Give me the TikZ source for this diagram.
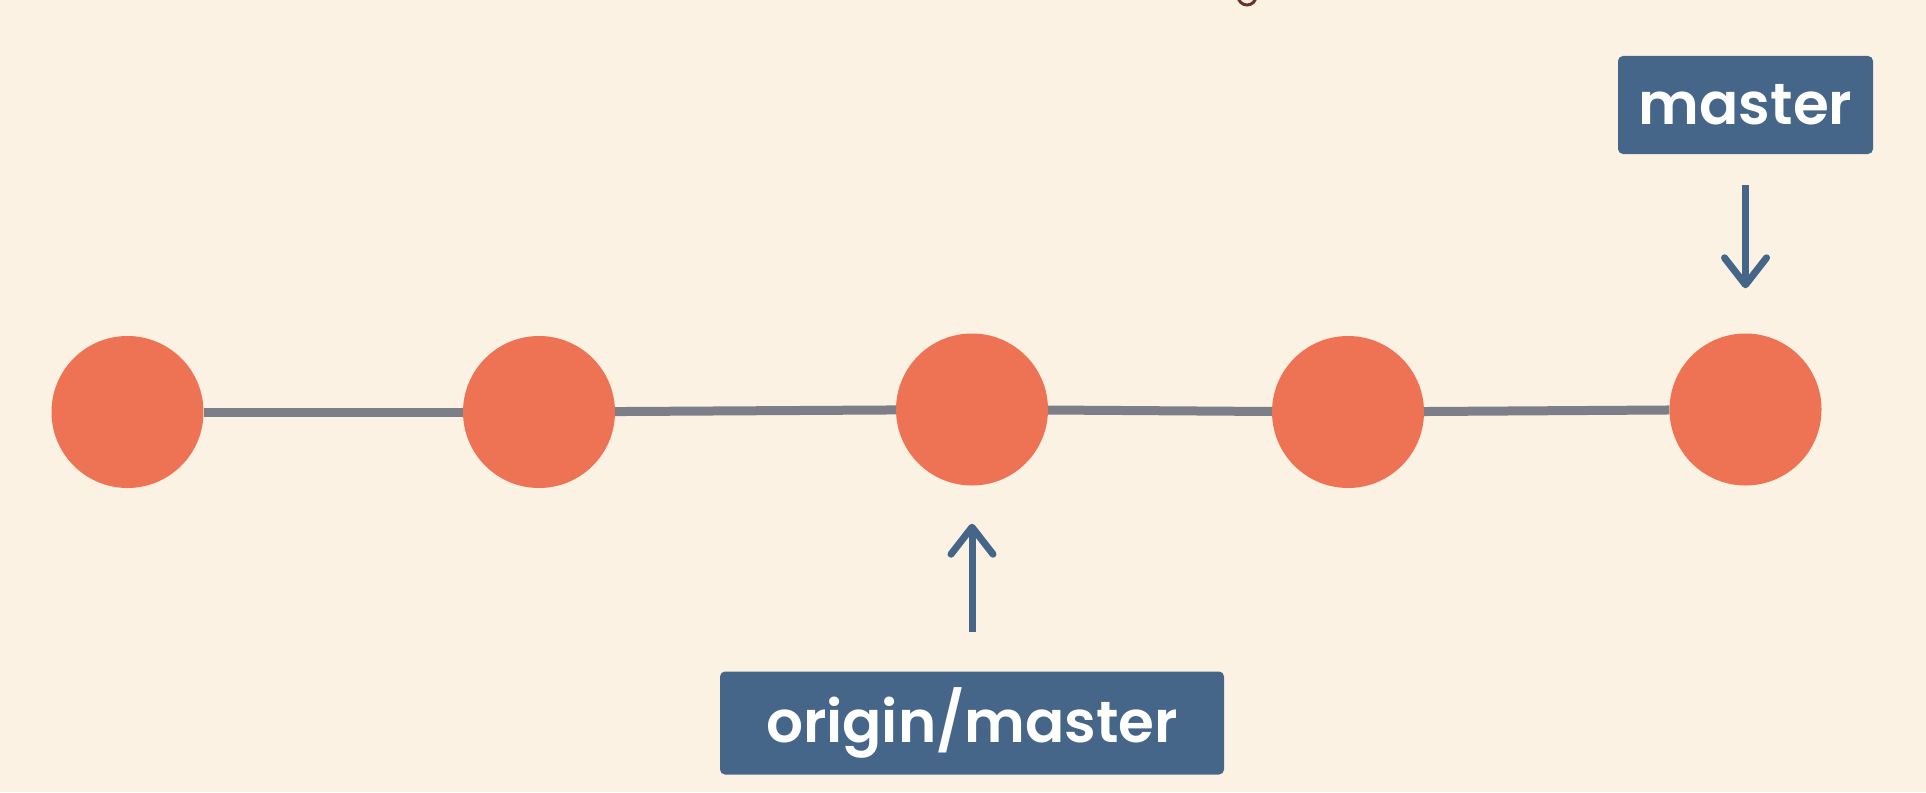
\documentclass[tikz,border=0pt]{standalone}
\usepackage{fontspec}
\newfontfamily\labelfont{Poppins}[UprightFont={* SemiBold}]
\usetikzlibrary{arrows.meta, positioning}
\definecolor{bgcream}{HTML}{FCF2E3}
\definecolor{commitred}{HTML}{EE7354}
\definecolor{refblue}{HTML}{456689}
\definecolor{linkgrey}{HTML}{7C7F88}
\definecolor{ringbrown}{HTML}{6B3330}

\begin{document}
\begin{tikzpicture}[x=1pt, y=-1pt,
  commit/.style={circle, fill=commitred, minimum size=152pt, inner sep=0pt},
  refbox/.style={fill=refblue, rounded corners=5pt, inner sep=0pt, minimum height=100pt, text=white, font=\labelfont\fontsize{58}{70}\selectfont, text height=39pt, text depth=0pt},
  link/.style={draw=linkgrey, line width=9pt},
  refptr/.style={draw=refblue, line width=7pt, -{Straight Barb[length=27pt, width=42pt, round]}}
]
  \useasboundingbox[fill=bgcream] (0,0) rectangle (1926,792);
  \draw[ringbrown, line width=3pt] (1247,-4) circle (9);

  \node[commit] (c1) at (127.5,412) {};
  \node[commit] (c2) at (539,412) {};
  \node[commit] (c3) at (972,409.5) {};
  \node[commit] (c4) at (1348,412) {};
  \node[commit] (c5) at (1745.5,409.5) {};
  \foreach \a/\b in {c1/c2, c2/c3, c3/c4, c4/c5}
    \draw[link] (\a) -- (\b);

  \node[refbox, minimum width=255pt, minimum height=98pt] (master) at (1745.5,105) {master};
  \node[refbox, minimum width=504pt, minimum height=103pt] (origin) at (972,723) {origin/master};
  \draw[refptr, shorten <=31pt, shorten >=45pt] (master) -- (c5);
  \draw[refptr, shorten <=39pt, shorten >=38pt] (origin) -- (c3);
\end{tikzpicture}
\end{document}
